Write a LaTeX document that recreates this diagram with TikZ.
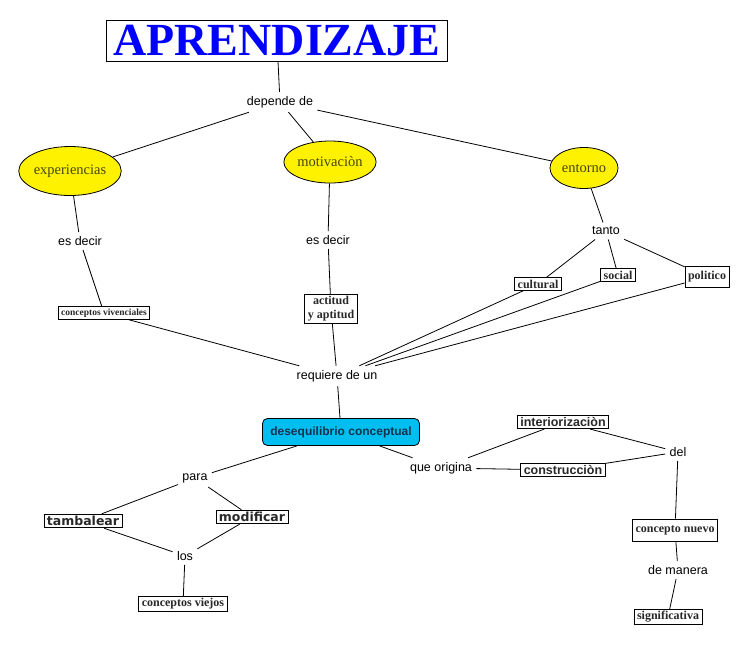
\documentclass[tikz,border=0pt]{standalone}
\usepackage{fontspec}
\setmainfont{Liberation Serif}
\newfontfamily\labelfont{Liberation Sans}
\newfontfamily\heavyfont{DejaVu Sans Bold}
\usetikzlibrary{shapes.geometric}
\definecolor{skyfill}{RGB}{0,190,240}
\definecolor{boxtext}{RGB}{40,40,40}
\definecolor{ovaltext}{RGB}{70,70,20}
\begin{document}
\begin{tikzpicture}[
  x=1pt, y=-1pt,
  line width=0.8pt,
  title/.style={
    draw,
    font=\bfseries\fontsize{46}{46}\selectfont,
    text=blue,
    inner xsep=7pt, inner ysep=5pt
  },
  oval/.style={
    draw,
    ellipse,
    fill=yellow,
    text=ovaltext,
    font=\fontsize{14.5}{16}\selectfont,
    inner sep=0pt
  },
  cbox/.style={
    draw,
    fill=white,
    text=boxtext,
    font=\bfseries\fontsize{12}{13}\selectfont,
    align=center,
    inner xsep=3pt, inner ysep=2pt
  },
  hbox/.style={
    draw,
    text=boxtext,
    font=\heavyfont\fontsize{12.5}{13}\selectfont,
    inner xsep=3pt, inner ysep=2pt
  },
  link/.style={
    font=\labelfont\fontsize{12.5}{13}\selectfont,
    inner sep=4pt
  }
]
\useasboundingbox (0,0) rectangle (753,649);

\node[title] at (277,41) (apr) {APRENDIZAJE};
\node[link] at (280,102) (depende) {depende de};

\node[oval, minimum width=101, minimum height=49] at (70,171) (exp) {experiencias};
\node[oval, minimum width=91, minimum height=42] at (330,162) (mot) {motivaciòn};
\node[oval, minimum width=68, minimum height=41] at (584,168) (ent) {entorno};

\node[link] at (80,241) (esdecirA) {es decir};
\node[link] at (328,240) (esdecirB) {es decir};
\node[link] at (606,231) (tanto) {tanto};

\node[cbox, font=\bfseries\fontsize{9.5}{11}\selectfont] at (104,313) (vivenc) {conceptos vivenciales};
\node[cbox, font=\bfseries\fontsize{12}{14}\selectfont] at (331,309) (actitud) {actitud\\y aptitud};
\node[cbox] at (538,284) (cultural) {cultural};
\node[cbox] at (618,275) (social) {social};
\node[cbox, minimum height=21] at (707,277) (politico) {politico};

\node[link] at (337,376) (requiere) {requiere de un};

\node[draw, rounded corners=5pt, fill=skyfill, text={rgb,255:red,20;green,50;blue,80},
  font=\labelfont\bfseries\fontsize{12}{13}\selectfont,
  minimum width=157, minimum height=27] at (341,432) (deseq) {desequilibrio conceptual};

\node[link] at (195,478) (para) {para};
\node[hbox] at (83,521) (tamb) {tambalear};
\node[hbox] at (252,517) (modif) {modificar};
\node[link] at (185,556) (los) {los};
\node[cbox] at (183,604) (viejos) {conceptos viejos};

\node[link] at (441,468) (origina) {que origina};
\node[cbox, font=\labelfont\bfseries\fontsize{12.5}{13}\selectfont] at (563,422) (interior) {interiorizaciòn};
\node[cbox, font=\labelfont\bfseries\fontsize{12.5}{13}\selectfont] at (563,470) (constr) {construcciòn};
\node[link] at (678,452) (del) {del};
\node[cbox, minimum height=22] at (675,530) (nuevo) {concepto nuevo};
\node[link] at (678,570) (manera) {de manera};
\node[cbox] at (668,617) (signif) {significativa};

\draw (apr) -- (depende);
\draw (depende) -- (exp);
\draw (depende) -- (mot);
\draw (depende) -- (ent);
\draw (exp) -- (esdecirA);
\draw (esdecirA) -- (vivenc);
\draw (mot) -- (esdecirB);
\draw (esdecirB) -- (actitud);
\draw (ent) -- (tanto);
\draw (tanto) -- (cultural);
\draw (tanto) -- (social);
\draw (tanto) -- (politico);
\draw (vivenc) -- (requiere);
\draw (actitud) -- (requiere);
\draw (cultural) -- (requiere);
\draw (social) -- (requiere);
\draw (politico) -- (requiere);
\draw (requiere) -- (deseq);
\draw (deseq) -- (para);
\draw (para) -- (tamb);
\draw (para) -- (modif);
\draw (tamb) -- (los);
\draw (modif) -- (los);
\draw (los) -- (viejos);
\draw (deseq) -- (origina);
\draw (origina) -- (interior);
\draw (origina) -- (constr);
\draw (interior) -- (del);
\draw (constr) -- (del);
\draw (del) -- (nuevo);
\draw (nuevo) -- (manera);
\draw (manera) -- (signif);
\end{tikzpicture}
\end{document}
